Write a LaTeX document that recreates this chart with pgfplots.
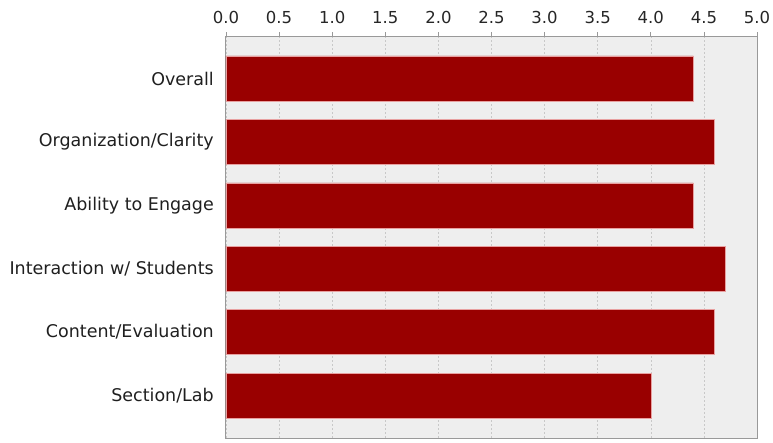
\documentclass[border=0pt]{standalone}
\usepackage{fontspec}
\setmainfont{DejaVu Sans}
\usepackage{pgfplots}
\pgfplotsset{compat=1.18}

\definecolor{barred}{HTML}{990000}
\definecolor{baredge}{HTML}{E8A0A0}
\definecolor{plotbg}{HTML}{EEEEEE}
\definecolor{axisgray}{HTML}{999999}
\definecolor{gridgray}{HTML}{C8C8C8}

\begin{document}
\begin{tikzpicture}
\useasboundingbox (-226pt,-4pt) rectangle (547pt,438pt);
\begin{axis}[
    scale only axis,
    width=531pt, height=402pt,
    xbar, bar width=45pt,
    xmin=0, xmax=5,
    ymin=-0.67, ymax=5.67,
    y dir=reverse,
    xtick={0,0.5,...,5},
    xticklabel pos=top,
    xtick pos=top,
    tick align=outside,
    major tick length=4pt,
    ytick={0,1,2,3,4,5},
    yticklabels={Overall,Organization/Clarity,Ability to Engage,Interaction w/ Students,Content/Evaluation,Section/Lab},
    ytick style={draw=none},
    xtick style={axisgray, line width=0.8pt},
    /pgf/number format/assume math mode=true,
    /pgf/number format/.cd, fixed, fixed zerofill, precision=1, /pgfplots/.cd,
    x tick label style={font=\fontsize{16.5}{18}\selectfont, text=black!85, inner sep=0pt, yshift=8pt},
    y tick label style={font=\fontsize{17.5}{20}\selectfont, text=black!88, inner sep=0pt, xshift=-8pt},
    xmajorgrids,
    grid style={gridgray, dash pattern=on 2pt off 2pt, line width=0.6pt},
    axis background/.style={fill=plotbg},
    axis line style={axisgray, line width=1pt},
]
\addplot[fill=barred, draw=baredge, line width=0.6pt] coordinates {
(4.4,0)
(4.6,1)
(4.4,2)
(4.7,3)
(4.6,4)
(4.0,5)
};
\end{axis}
\end{tikzpicture}
\end{document}
